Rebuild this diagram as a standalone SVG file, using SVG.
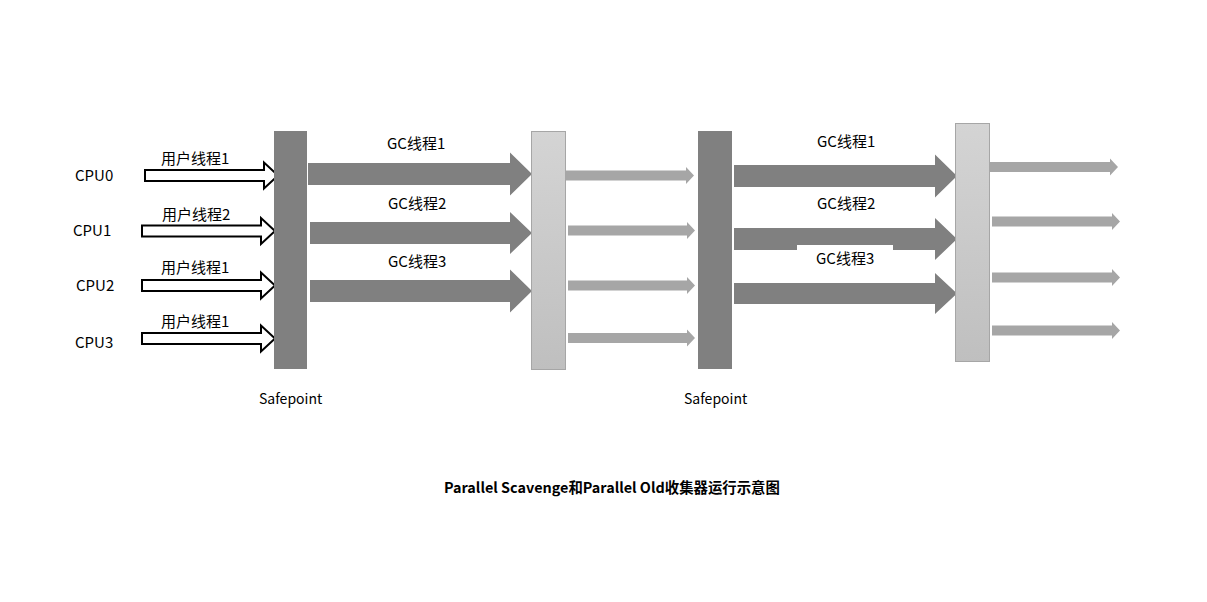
<svg xmlns="http://www.w3.org/2000/svg" width="1207" height="602" viewBox="0 0 1207 602">
<defs>
<linearGradient id="lg" x1="0" y1="0" x2="0" y2="1">
<stop offset="0" stop-color="#d4d4d4"/>
<stop offset="1" stop-color="#bfbfbf"/>
</linearGradient>
<style>
text{font-family:"Noto Sans CJK SC","Noto Sans",sans-serif;fill:#000;dominant-baseline:central}
.lbl{font-size:15px}
.sp{font-size:14px}
.title{font-size:14.4px;font-weight:bold}
.dark{fill:#808080}
.light{fill:url(#lg);stroke:#a6a6a6;stroke-width:1}
.hollow{fill:#fff;stroke:#000;stroke-width:2}
.gc{fill:#808080}
.sm{fill:#a6a6a6}
</style>
</defs>
<rect width="1207" height="602" fill="#fff"/>

<g id="connectors">
  <g id="user-arrows">
    <path class="hollow" transform="translate(145,175.5)" d="M0,-5.5H119V-13L133,0L119,13V5.5H0Z"/>
    <path class="hollow" transform="translate(142,231)" d="M0,-5.5H119V-13L133,0L119,13V5.5H0Z"/>
    <path class="hollow" transform="translate(142,285.5)" d="M0,-5.5H119V-13L133,0L119,13V5.5H0Z"/>
    <path class="hollow" transform="translate(142,338.5)" d="M0,-5.5H119V-13L133,0L119,13V5.5H0Z"/>
  </g>
  <g id="gc-arrows-1">
    <path class="gc" transform="translate(308,174)" d="M0,-11H202V-21.5L224,0L202,21.5V11H0Z"/>
    <path class="gc" transform="translate(310,233)" d="M0,-11H200V-21L222,0L200,21V11H0Z"/>
    <path class="gc" transform="translate(310,291)" d="M0,-11H200V-21.5L222,0L200,21.5V11H0Z"/>
  </g>
  <g id="small-arrows-1">
    <path class="sm" transform="translate(566,175.5)" d="M0,-5H120V-8.5L128,0L120,8.5V5H0Z"/>
    <path class="sm" transform="translate(568,230.5)" d="M0,-5H119V-8.5L127,0L119,8.5V5H0Z"/>
    <path class="sm" transform="translate(568,285.5)" d="M0,-5H119V-8.5L127,0L119,8.5V5H0Z"/>
    <path class="sm" transform="translate(568,338)" d="M0,-5H119V-8.5L127,0L119,8.5V5H0Z"/>
  </g>
  <g id="gc-arrows-2">
    <path class="gc" transform="translate(734,176)" d="M0,-11H201V-21.5L223,0L201,21.5V11H0Z"/>
    <path class="gc" transform="translate(734,239)" d="M0,-11H201V-21L223,0L201,21V11H0Z"/>
    <path class="gc" transform="translate(734,293.5)" d="M0,-10.5H201V-20.5L223,0L201,20.5V10.5H0Z"/>
  </g>
  <g id="small-arrows-2">
    <path class="sm" transform="translate(989,167)" d="M0,-5H121V-8.5L129,0L121,8.5V5H0Z"/>
    <path class="sm" transform="translate(992,221.5)" d="M0,-5H120V-8.5L128,0L120,8.5V5H0Z"/>
    <path class="sm" transform="translate(992,277.5)" d="M0,-5H120V-8.5L128,0L120,8.5V5H0Z"/>
    <path class="sm" transform="translate(992,330.5)" d="M0,-5H120V-8.5L128,0L120,8.5V5H0Z"/>
  </g>
</g>

<g id="safepoint-1"><rect class="dark" x="274" y="131" width="33" height="238"/></g>
<g id="gc-end-1"><rect class="light" x="531.5" y="131.5" width="34" height="238"/></g>
<g id="safepoint-2"><rect class="dark" x="698" y="131" width="34" height="238"/></g>
<g id="gc-end-2"><rect class="light" x="955.5" y="123.5" width="34" height="238"/></g>

<g id="cpu-labels">
  <text class="lbl" x="75" y="174">CPU0</text>
  <text class="lbl" x="73" y="229">CPU1</text>
  <text class="lbl" x="76" y="284">CPU2</text>
  <text class="lbl" x="75" y="341">CPU3</text>
</g>
<g id="user-labels">
  <text class="lbl" x="161" y="157">用户线程1</text>
  <text class="lbl" x="162" y="213">用户线程2</text>
  <text class="lbl" x="161" y="266">用户线程1</text>
  <text class="lbl" x="161" y="320">用户线程1</text>
</g>
<g id="gc-labels-1">
  <text class="lbl" x="387" y="142">GC线程1</text>
  <text class="lbl" x="388" y="202">GC线程2</text>
  <text class="lbl" x="388" y="260">GC线程3</text>
</g>
<g id="gc-labels-2">
  <text class="lbl" x="817" y="140">GC线程1</text>
  <text class="lbl" x="817" y="202">GC线程2</text>
  <rect x="797" y="245" width="96" height="24" fill="#fff"/>
  <text class="lbl" x="816" y="257">GC线程3</text>
</g>
<g id="safepoint-labels">
  <text class="sp" x="259" y="398">Safepoint</text>
  <text class="sp" x="684" y="398">Safepoint</text>
</g>
<g id="title">
  <text class="title" x="444" y="486">Parallel Scavenge和Parallel Old收集器运行示意图</text>
</g>
</svg>
